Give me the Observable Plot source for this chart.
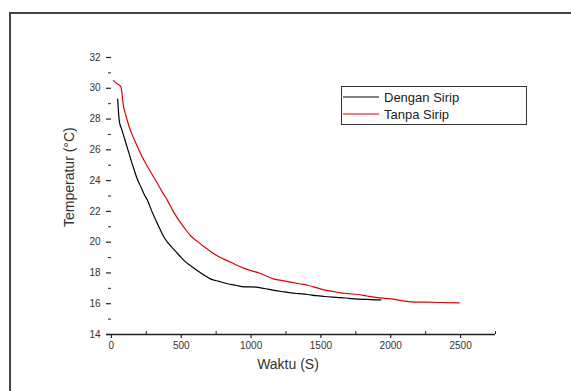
<!DOCTYPE html>
<html>
<head>
<meta charset="utf-8">
<script src="https://cdn.jsdelivr.net/npm/d3@7"></script>
<script src="https://cdn.jsdelivr.net/npm/@observablehq/plot@0.6"></script>
<style>
  html, body { margin: 0; padding: 0; background: #fff; }
  #wrap { position: relative; width: 571px; height: 391px; overflow: hidden; font-family: "Liberation Sans", Arial, sans-serif; }
  #frame { position: absolute; left: 9px; top: 12px; right: -5px; bottom: -5px; border-top: 2px solid #444; border-left: 2px solid #444; }
  #chart { position: absolute; left: 0; top: 0; }
  #legend { position: absolute; left: 341px; top: 86px; width: 184px; height: 37px; border: 1.5px solid #333; background: #fff; }
  .item { position: absolute; left: 0; height: 18px; display: flex; align-items: center; font-size: 13px; color: #222; }
  .item svg { margin-left: 1px; margin-right: 5px; }
</style>
</head>
<body>
<div id="wrap">
  <div id="frame"></div>
  <div id="chart"></div>
  <div id="legend">
    <div class="item" style="top:1px"><svg width="36" height="4"><line x1="0" x2="36" y1="2" y2="2" stroke="#000" stroke-width="1.2"/></svg><span>Dengan Sirip</span></div>
    <div class="item" style="top:18px"><svg width="36" height="4"><line x1="0" x2="36" y1="2" y2="2" stroke="#e00000" stroke-width="1.2"/></svg><span>Tanpa Sirip</span></div>
  </div>
</div>
<script>
// Dengan Sirip (black)
const waktuDengan = [45, 50, 56, 75, 92, 110, 127, 145, 163, 185, 211, 235, 259, 290, 319, 350, 378, 410, 450, 485, 521, 570, 617, 665, 712, 770, 832, 890, 951, 1000, 1058, 1120, 1165, 1225, 1285, 1345, 1405, 1465, 1523, 1585, 1643, 1700, 1762, 1830, 1905, 1930];
const tempDengan = [29.3, 28.6, 27.9, 27.3, 26.8, 26.25, 25.75, 25.2, 24.7, 24.1, 23.6, 23.1, 22.7, 22.0, 21.4, 20.8, 20.3, 19.9, 19.5, 19.15, 18.8, 18.45, 18.15, 17.85, 17.6, 17.45, 17.3, 17.2, 17.1, 17.1, 17.05, 16.95, 16.87, 16.78, 16.7, 16.65, 16.6, 16.52, 16.47, 16.43, 16.4, 16.35, 16.3, 16.28, 16.25, 16.25];
// Tanpa Sirip (red)
const waktuTanpa = [15, 40, 68, 87, 105, 127, 155, 187, 220, 259, 295, 331, 365, 402, 440, 485, 525, 569, 615, 664, 710, 760, 805, 855, 900, 951, 1000, 1058, 1110, 1165, 1225, 1285, 1345, 1405, 1465, 1523, 1585, 1643, 1700, 1762, 1830, 1905, 1960, 2020, 2073, 2150, 2250, 2350, 2490];
const tempTanpa = [30.5, 30.3, 30.1, 28.8, 28.2, 27.5, 26.85, 26.2, 25.55, 24.9, 24.35, 23.8, 23.25, 22.7, 22.05, 21.4, 20.9, 20.4, 20.05, 19.7, 19.4, 19.1, 18.9, 18.7, 18.5, 18.3, 18.15, 18.0, 17.8, 17.6, 17.5, 17.4, 17.3, 17.2, 17.05, 16.9, 16.8, 16.7, 16.65, 16.6, 16.5, 16.4, 16.35, 16.3, 16.2, 16.12, 16.1, 16.08, 16.05];

const xTicks = [0, 500, 1000, 1500, 2000, 2500];
const xMinorTicks = [250, 750, 1250, 1750, 2250, 2750];
const yTicks = [14, 16, 18, 20, 22, 24, 26, 28, 30, 32];
const yMinorTicks = [15, 17, 19, 21, 23, 25, 27, 29, 31];
const xTitle = "Waktu (S)";
const yTitle = "Temperatur (°C)";

const dengan = waktuDengan.map((t, i) => ({t, T: tempDengan[i]}));
const tanpa = waktuTanpa.map((t, i) => ({t, T: tempTanpa[i]}));

const chart = Plot.plot({
  width: 571,
  height: 391,
  marginLeft: 106,
  marginRight: 76,
  marginTop: 57,
  marginBottom: 57,
  style: {fontFamily: "'Liberation Sans', Arial, sans-serif", background: "transparent", color: "#222"},
  x: {domain: [-35, 2750]},
  y: {domain: [14, 32]},
  marks: [
    Plot.axisX({ticks: xTicks, tickFormat: d => String(d), tickSize: 4, tickPadding: 3, fontSize: 10, label: null, stroke: "#222", strokeWidth: 1.2, fill: "#333"}),
    Plot.axisX({ticks: xMinorTicks, tickSize: 3, text: null, label: null, dy: -3, stroke: "#222", strokeWidth: 1}),
    Plot.axisY({ticks: yTicks, tickFormat: d => String(d), tickSize: 5, tickPadding: 6, dx: 5, fontSize: 10, label: null, stroke: "#222", strokeWidth: 1.2, fill: "#333"}),
    Plot.axisY({ticks: yMinorTicks, tickSize: 3, dx: 5, text: null, label: null, stroke: "#222", strokeWidth: 1}),
    Plot.ruleY([14], {stroke: "#222", strokeWidth: 1.5}),
    Plot.line(dengan, {x: "t", y: "T", stroke: "#000", strokeWidth: 1.2, curve: "monotone-x"}),
    Plot.line(tanpa, {x: "t", y: "T", stroke: "#e00000", strokeWidth: 1.2, curve: "monotone-x"}),
    Plot.text([xTitle], {frameAnchor: "bottom", dy: 34, dx: -13, fontSize: 14, fill: "#333"}),
    Plot.text([yTitle], {frameAnchor: "left", rotate: -90, dx: -37, dy: 31, fontSize: 14, fill: "#333"})
  ]
});
document.getElementById("chart").appendChild(chart);
</script>
</body>
</html>
